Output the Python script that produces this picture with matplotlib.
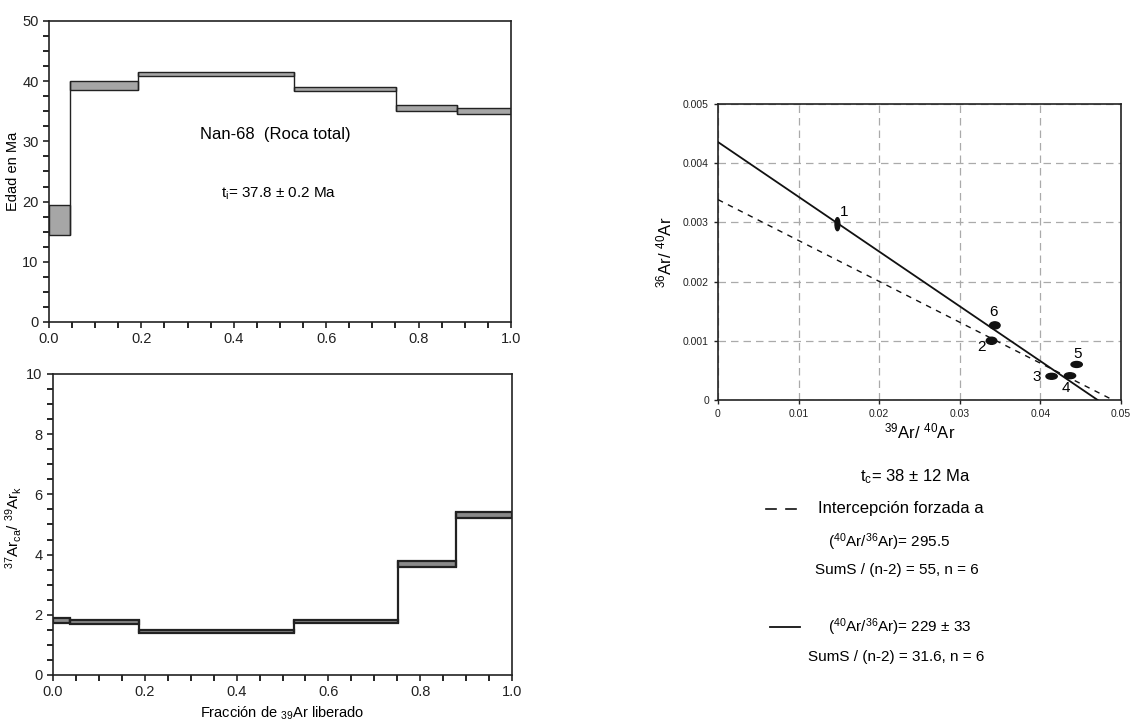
import matplotlib
matplotlib.use("Agg")
import matplotlib.pyplot as plt
from matplotlib.patches import Ellipse
from matplotlib.ticker import MultipleLocator

plt.rcParams["font.family"] = ["Liberation Sans", "DejaVu Sans"]
plt.rcParams["mathtext.fontset"] = "custom"
plt.rcParams["mathtext.rm"] = "Liberation Sans"
plt.rcParams["mathtext.it"] = "Liberation Sans"

# step edges (fraction of 39Ar released)
age_edges = [0.0, 0.045, 0.192, 0.531, 0.752, 0.884, 1.0]
age_lo = [14.5, 38.6, 40.8, 38.3, 35.1, 34.6]
age_hi = [19.5, 40.1, 41.6, 39.1, 36.1, 35.5]

ca_edges = [0.0, 0.038, 0.187, 0.525, 0.752, 0.879, 1.0]
ca_lo = [1.74, 1.71, 1.39, 1.72, 3.59, 5.21]
ca_hi = [1.88, 1.81, 1.50, 1.82, 3.77, 5.41]

# isochron points (with error ellipse sizes)
pt_labels = ["1", "2", "3", "4", "5", "6"]
pt_x = [0.01482, 0.03394, 0.04139, 0.04367, 0.04450, 0.03435]
pt_y = [0.00297, 0.00100, 0.00040, 0.00041, 0.00060, 0.00126]
pt_w = [0.0006, 0.0013, 0.0014, 0.0014, 0.0014, 0.0013]
pt_h = [0.00022, 0.00012, 0.00010, 0.00010, 0.00010, 0.00012]
lab_x = [0.0157, 0.0327, 0.0395, 0.0432, 0.0446, 0.0342]
lab_y = [0.00317, 0.00089, 0.00038, 0.00021, 0.00078, 0.00148]

# regression lines: (intercept y, intercept x)
solid_line = [0.004357, 0.0471]
dashed_line = [1 / 295.5, 0.0490]


def draw_spectrum(ax, edges, lo, hi, fc, lw):
    widths = [edges[i + 1] - edges[i] for i in range(len(lo))]
    heights = [h - l for h, l in zip(hi, lo)]
    ax.bar(edges[:-1], heights, width=widths, bottom=lo, align="edge",
           color=fc, edgecolor="#222222", linewidth=lw, zorder=2)
    for i in range(1, len(lo)):
        ymin = min(lo[i - 1], lo[i])
        ymax = max(hi[i - 1], hi[i])
        ax.vlines(edges[i], ymin, ymax, color="#222222", linewidth=lw, zorder=3)


def style_axis(ax):
    for s in ax.spines.values():
        s.set_linewidth(1.2)
        s.set_color("#222222")
    ax.tick_params(direction="out", length=4, width=1.2, labelsize=10.5, colors="#222222")
    ax.tick_params(which="minor", direction="out", length=4, width=1.2)


fig = plt.figure(figsize=(11.33, 7.25), dpi=100)

# top: age spectrum
ax1 = fig.add_axes([0.0432, 0.5559, 0.4078, 0.4152])
draw_spectrum(ax1, age_edges, age_lo, age_hi, "#a6a6a6", 1.0)
ax1.set_xlim(0, 1)
ax1.set_ylim(0, 50)
ax1.xaxis.set_major_locator(MultipleLocator(0.2))
ax1.xaxis.set_minor_locator(MultipleLocator(0.05))
ax1.yaxis.set_major_locator(MultipleLocator(10))
ax1.yaxis.set_minor_locator(MultipleLocator(2.5))
ax1.xaxis.set_major_formatter(plt.FormatStrFormatter("%.1f"))
style_axis(ax1)
ax1.set_ylabel("Edad en Ma", fontsize=10.5)
ax1.yaxis.set_label_coords(-0.062, 0.5)
ax1.text(0.49, 0.623, "Nan-68  (Roca total)", transform=ax1.transAxes,
         ha="center", va="center", fontsize=12)
ax1.text(0.372, 0.427, r"t$_\mathrm{i}$= 37.8 ± 0.2 Ma", transform=ax1.transAxes,
         ha="left", va="center", fontsize=11)

# bottom: Ca/K spectrum
ax2 = fig.add_axes([0.0468, 0.0690, 0.4051, 0.4152])
draw_spectrum(ax2, ca_edges, ca_lo, ca_hi, "#8a8a8a", 1.6)
ax2.set_xlim(0, 1)
ax2.set_ylim(0, 10)
ax2.xaxis.set_major_locator(MultipleLocator(0.2))
ax2.xaxis.set_minor_locator(MultipleLocator(0.05))
ax2.yaxis.set_major_locator(MultipleLocator(2))
ax2.yaxis.set_minor_locator(MultipleLocator(0.5))
ax2.xaxis.set_major_formatter(plt.FormatStrFormatter("%.1f"))
style_axis(ax2)
ax2.set_ylabel(r"$^{37}$Ar$_\mathrm{ca}$/ $^{39}$Ar$_\mathrm{k}$", fontsize=11)
ax2.yaxis.set_label_coords(-0.063, 0.49)
ax2.set_xlabel(r"Fracción de $_{39}$Ar liberado", fontsize=10.5)
ax2.xaxis.set_label_coords(0.5, -0.1)

# right: inverse isochron
ax3 = fig.add_axes([0.6337, 0.4483, 0.3557, 0.4083])
ax3.set_xlim(0, 0.05)
ax3.set_ylim(0, 0.005)
ax3.set_xticks([0, 0.01, 0.02, 0.03, 0.04, 0.05])
ax3.set_xticklabels(["0", "0.01", "0.02", "0.03", "0.04", "0.05"])
ax3.set_yticks([0, 0.001, 0.002, 0.003, 0.004, 0.005])
ax3.set_yticklabels(["0", "0.001", "0.002", "0.003", "0.004", "0.005"])
ax3.grid(True, color="#aaaaaa", linestyle=(0, (6, 4)), linewidth=0.9)
ax3.set_axisbelow(True)
for s in ax3.spines.values():
    s.set_linewidth(1.2)
    s.set_color("#222222")
ax3.tick_params(direction="out", length=3, width=1.0, labelsize=7.5, colors="#222222")

ax3.plot([0, solid_line[1]], [solid_line[0], 0], color="#111111", linewidth=1.3, zorder=3)
ax3.plot([0, dashed_line[1]], [dashed_line[0], 0], color="#111111", linewidth=1.0,
         linestyle=(0, (4, 4)), zorder=3)
for x, y, w, h in zip(pt_x, pt_y, pt_w, pt_h):
    ax3.add_patch(Ellipse((x, y), w, h, facecolor="#111111", edgecolor="#111111", zorder=4))
for t, x, y in zip(pt_labels, lab_x, lab_y):
    ax3.text(x, y, t, ha="center", va="center", fontsize=11, zorder=5)

ax3.set_ylabel(r"$^{36}$Ar/ $^{40}$Ar", fontsize=12, labelpad=6)
ax3.set_xlabel(r"$^{39}$Ar/ $^{40}$Ar", fontsize=12, labelpad=2)


def fx(px):
    return px / 1133


def fy(py):
    return 1 - py / 725


fig.text(fx(915), fy(477), r"t$_\mathrm{c}$= 38 ± 12 Ma", ha="center", va="center", fontsize=12)
fig.add_artist(plt.Line2D([fx(766), fx(776)], [fy(509), fy(509)], color="#111111",
                          linewidth=1.2, transform=fig.transFigure))
fig.add_artist(plt.Line2D([fx(786), fx(796)], [fy(509), fy(509)], color="#111111",
                          linewidth=1.2, transform=fig.transFigure))
fig.text(fx(818), fy(509), "Intercepción forzada a", ha="left", va="center", fontsize=12)
fig.text(fx(828), fy(542), r"($^{40}$Ar/$^{36}$Ar)= 295.5", ha="left", va="center", fontsize=11)
fig.text(fx(815), fy(570), "SumS / (n-2) = 55, n = 6", ha="left", va="center", fontsize=11)
fig.add_artist(plt.Line2D([fx(770), fx(800)], [fy(627), fy(627)], color="#111111",
                          linewidth=1.3, transform=fig.transFigure))
fig.text(fx(828), fy(627), r"($^{40}$Ar/$^{36}$Ar)= 229 ± 33", ha="left", va="center", fontsize=11)
fig.text(fx(808), fy(657), "SumS / (n-2) = 31.6, n = 6", ha="left", va="center", fontsize=11)

fig.savefig("out.png", dpi=100)
